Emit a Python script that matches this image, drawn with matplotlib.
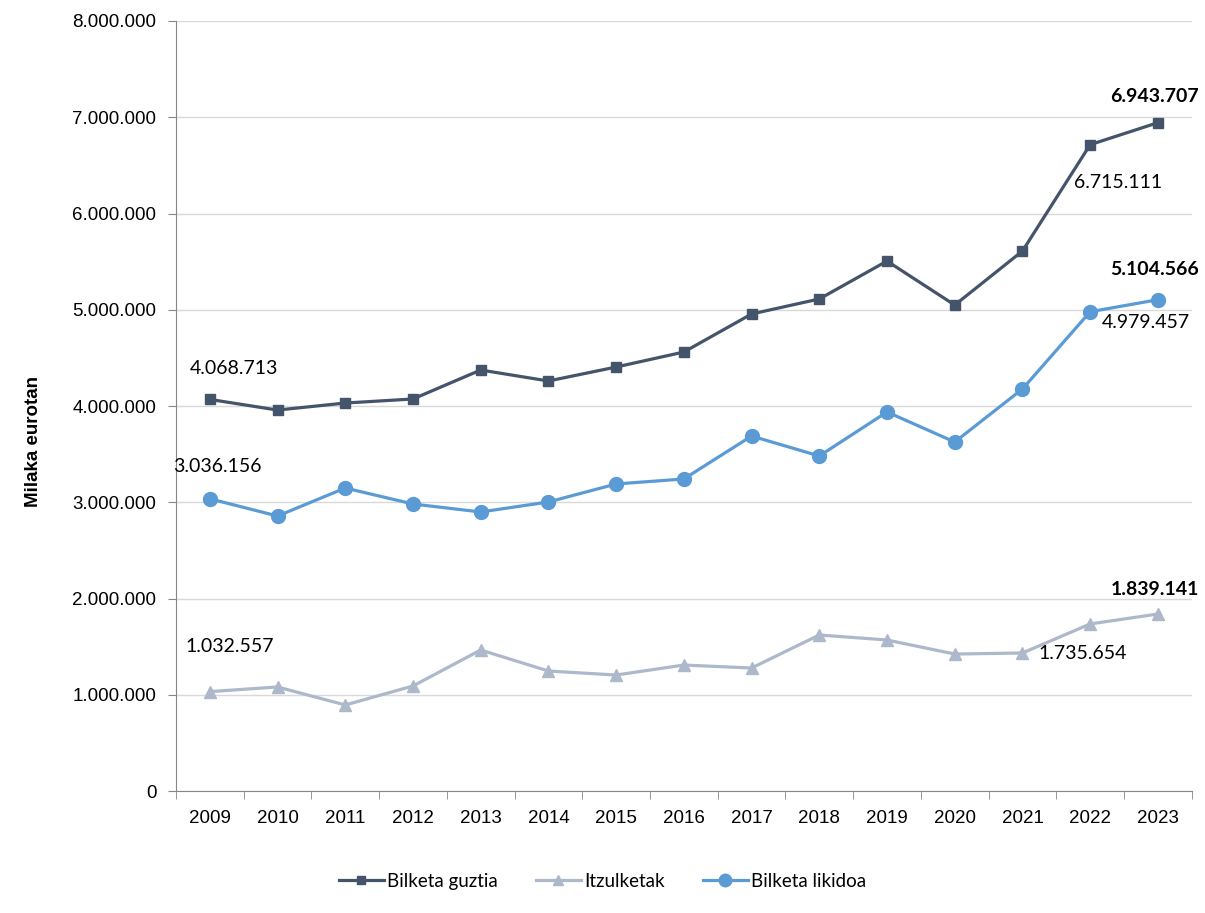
import matplotlib.pyplot as plt
import numpy as np
from matplotlib.ticker import FuncFormatter

years = ['2009', '2010', '2011', '2012', '2013', '2014', '2015', '2016',
         '2017', '2018', '2019', '2020', '2021', '2022', '2023']

bilketa_guztia = [4068713, 3958000, 4031000, 4073000, 4374000, 4260000, 4405000,
                  4561000, 4956000, 5112000, 5506000, 5049000, 5610000, 6715111, 6943707]
itzulketak = [1032557, 1081000, 894000, 1091000, 1465000, 1247000, 1205000,
              1309000, 1278000, 1621000, 1569000, 1423000, 1434000, 1735654, 1839141]
bilketa_likidoa = [3036156, 2857000, 3148000, 2982000, 2899000, 3003000, 3190000,
                   3242000, 3688000, 3481000, 3938000, 3626000, 4177000, 4979457, 5104566]

DARK = '#44546A'
GRAY = '#ADB9CA'
BLUE = '#5B9BD5'

def fmt(v, pos=None):
    return f'{int(v):,}'.replace(',', '.')

fig = plt.figure(figsize=(12.05, 9.13), dpi=100)
ax = fig.add_axes([0.146, 0.1336, 0.843, 0.8434])

x = np.arange(len(years))
ax.plot(x, bilketa_guztia, color=DARK, lw=2.3, marker='s', ms=7, label='Bilketa guztia')
ax.plot(x, itzulketak, color=GRAY, lw=2.3, marker='^', ms=8, label='Itzulketak')
ax.plot(x, bilketa_likidoa, color=BLUE, lw=2.3, marker='o', ms=10, label='Bilketa likidoa')

ax.set_xlim(-0.5, len(years) - 0.5)
ax.set_ylim(0, 8000000)
ax.set_yticks(np.arange(0, 8000001, 1000000))
ax.yaxis.set_major_formatter(FuncFormatter(fmt))
ax.set_xticks(x)
ax.set_xticklabels(years)
ax.set_xticks(np.arange(-0.5, len(years), 1), minor=True)
ax.tick_params(axis='x', which='major', length=0, pad=14, labelsize=13.5)
ax.tick_params(axis='x', which='minor', length=6, color='#868686')
ax.tick_params(axis='y', length=6, color='#868686', labelsize=13.5, pad=8)
for lab in ax.get_xticklabels() + ax.get_yticklabels():
    lab.set_fontfamily('Liberation Sans')

ax.grid(axis='y', color='#D9D9D9', lw=1)
ax.set_axisbelow(True)
for s in ['top', 'right']:
    ax.spines[s].set_visible(False)
ax.spines['left'].set_color('#868686')
ax.spines['bottom'].set_color('#868686')

fig.text(33 / 1205, 1 - 441 / 913, 'Milaka eurotan', rotation=90, ha='center',
         va='center', fontsize=13.5, fontweight='bold', fontfamily='Liberation Sans')

# data labels
labels = [
    (0, bilketa_guztia, 24, 31, False),
    (0, bilketa_likidoa, 8, 32, False),
    (0, itzulketak, 20, 45, False),
    (13, bilketa_guztia, 28, -38, False),
    (13, bilketa_likidoa, 56, -11, False),
    (13, itzulketak, -8, -30, False),
    (14, bilketa_guztia, -3, 26, True),
    (14, bilketa_likidoa, -3, 30, True),
    (14, itzulketak, -3, 25, True),
]
for i, series, dx, dy, bold in labels:
    ax.annotate(fmt(series[i]), (i, series[i]), xytext=(dx, dy),
                textcoords='offset pixels', ha='center', va='center',
                fontsize=14, fontfamily='Lato',
                fontweight='bold' if bold else 'normal')

fig.legend(loc='center', bbox_to_anchor=(0.5, 0.035), ncol=3, frameon=False,
           prop={'family': 'Lato', 'size': 13.5}, handlelength=2.4,
           handletextpad=0.2, columnspacing=2.0, markerscale=0.9)

fig.savefig('out.png', dpi=100)
